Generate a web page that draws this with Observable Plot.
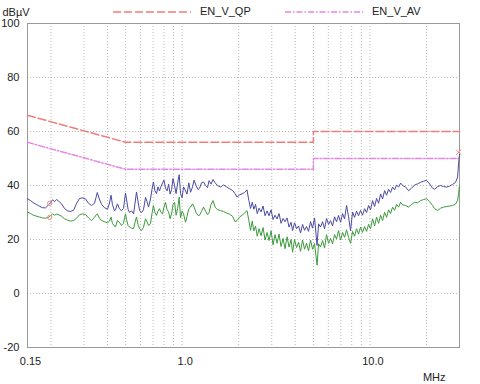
<!DOCTYPE html>
<html><head><meta charset="utf-8">
<script src="https://cdn.jsdelivr.net/npm/d3@7"></script>
<script src="https://cdn.jsdelivr.net/npm/@observablehq/plot@0.6"></script>
<style>
body{margin:0;background:#fff;}
#wrap{position:relative;width:480px;height:384px;font-family:"Liberation Sans",Arial,sans-serif;}
#legend{position:absolute;left:0;top:0;width:480px;height:22px;font-size:11px;color:#222;}
#legend .sw{position:absolute;top:7px;}
#legend .tx{position:absolute;top:5px;line-height:13px;}
#chart{position:absolute;left:0;top:0;}
</style></head>
<body><div id="wrap"><div id="chart"></div><div id="legend"></div></div>
<script>
// Sweep frequencies (MHz), shared by both detector traces
const freqMHz = [
  0.150,0.156,0.161,0.168,0.174,0.180,0.187,0.194,0.199,0.204,
  0.209,0.214,0.219,0.228,0.236,0.245,0.254,0.264,0.273,0.284,
  0.294,0.306,0.317,0.329,0.341,0.349,0.353,0.362,0.372,0.385,
  0.400,0.410,0.418,0.425,0.436,
  0.441,0.452,0.463,0.475,0.487,0.493,0.499,0.505,0.515,0.524,
  0.537,0.551,0.561,0.571,0.582,0.593,0.607,0.622,0.638,0.650,
  0.662,0.678,0.690,0.703,0.716,0.730,0.743,0.757,0.771,0.786,
  0.800,0.815,0.831,0.847,0.862,0.878,0.894,0.911,0.928,0.946,
  0.964,0.980,0.999,1.017,1.042,1.061,1.085,1.108,1.136,1.157,
  1.186,1.215,1.238,1.268,1.300,1.332,1.365,1.391,1.425,1.460,
  1.497,
  1.543,1.601,1.661,1.723,1.788,1.855,1.912,1.960,2.021,2.084,
  2.148,2.215,
  2.265,2.313,2.362,2.408,2.459,2.511,2.567,2.631,2.697,2.763,
  2.832,2.902,2.974,3.048,3.124,3.201,3.281,3.363,3.446,3.531,
  3.619,3.709,3.801,3.872,3.968,4.067,4.168,4.271,4.377,4.485,
  4.597,4.711,4.828,4.948,5.071,5.230,5.327,5.458,5.593,5.732,
  5.875,6.021,6.171,6.324,6.481,6.642,6.807,6.976,7.149,7.326,
  7.509,7.695,7.886,8.082,8.282,8.489,8.699,8.915,9.136,9.364,
  9.597,9.836,10.08,10.33,10.59,10.85,11.12,11.40,11.68,11.97,
  12.27,12.57,12.88,13.20,13.53,13.87,14.21,14.57,14.93,
  15.49,16.07,16.66,17.30,17.94,18.62,19.32,20.04,20.79,21.56,
  22.11,22.93,23.79,24.68,25.61,26.57,27.57,28.60,29.31,29.66,
  30.00
];
// Peak detector trace (blue), dBµV
const peakLevel = [
  35.1,34.4,33.6,32.9,32.3,31.8,31.7,32.8,33.6,34.7,
  34.0,34.8,34.3,33.2,31.5,30.6,30.4,30.8,33.2,35.2,
  35.4,35.0,33.4,32.6,33.4,36.0,37.4,35.0,33.0,31.8,
  31.2,33.5,36.4,33.0,30.6,
  31.0,33.2,31.4,30.7,31.5,34.5,37.2,35.0,31.2,30.0,
  30.6,29.5,33.5,37.6,34.0,30.8,30.0,31.0,35.6,34.0,
  32.0,35.0,38.5,41.3,38.0,37.0,39.5,38.0,39.6,41.0,
  42.0,39.0,38.0,40.5,36.8,38.5,42.6,40.0,37.0,41.0,
  44.0,37.0,35.5,39.5,38.0,36.8,41.0,37.5,39.5,42.0,
  40.0,38.5,39.0,41.0,41.3,40.0,39.2,41.8,40.5,42.2,
  41.0,
  40.0,39.4,40.2,39.5,38.8,38.2,37.0,35.7,36.5,36.9,
  37.4,38.4,
  34.4,31.5,33.8,31.2,33.0,29.6,31.6,30.2,32.4,28.8,
  30.6,28.8,31.0,27.4,29.0,27.6,29.6,26.0,27.8,26.6,
  28.0,24.6,26.4,23.3,26.2,24.0,25.0,22.4,25.6,23.4,
  24.8,23.0,26.6,24.2,28.0,17.8,25.8,24.6,26.6,24.0,
  27.8,25.6,27.0,25.0,28.4,26.6,28.9,26.4,29.6,27.6,
  32.6,28.4,23.3,30.2,28.2,30.5,28.8,30.8,29.0,31.4,
  30.0,32.6,31.0,34.4,32.2,35.2,33.4,36.9,35.0,38.1,
  36.4,38.6,37.4,39.4,38.4,40.2,39.4,40.9,40.0,
  39.4,38.1,39.0,40.2,40.6,41.2,41.6,41.9,40.6,39.0,
  38.6,39.6,40.0,39.6,39.4,39.8,40.4,41.2,43.1,48.0,
  51.5
];
// Average detector trace (green), dBµV
const avgLevel = [
  30.2,29.6,29.0,28.6,28.3,28.0,27.9,28.2,28.8,29.5,
  29.0,29.4,29.2,28.6,27.7,27.2,26.8,27.0,27.8,29.2,
  29.5,29.2,28.0,27.0,28.2,29.2,29.5,28.0,27.0,26.6,
  26.2,26.8,28.3,26.0,25.0,
  24.6,27.0,26.4,25.2,26.0,28.0,29.5,27.5,25.2,24.6,
  24.2,24.0,26.5,28.3,25.5,24.0,23.3,24.5,27.7,26.5,
  25.2,25.8,29.5,32.6,30.0,28.9,30.5,31.4,30.0,29.5,
  32.0,33.8,31.0,30.2,27.7,29.5,33.0,33.8,29.0,31.5,
  35.7,28.0,30.5,29.5,26.4,28.5,31.4,32.0,33.2,32.0,
  30.0,28.9,29.0,30.5,32.0,30.5,29.2,30.0,33.0,34.4,
  32.0,
  31.0,30.7,30.4,29.8,29.4,28.6,26.6,27.0,28.3,29.0,
  29.8,30.7,
  27.0,23.4,26.8,23.2,25.0,21.2,24.0,21.4,24.4,19.8,
  22.6,19.6,23.2,18.0,21.8,18.6,22.0,17.4,20.4,16.6,
  21.0,17.2,20.0,15.3,20.0,17.0,19.0,15.6,19.8,16.4,
  18.6,15.8,19.8,16.4,18.5,10.5,18.4,17.2,19.6,16.8,
  21.8,18.6,20.4,18.4,21.8,20.2,23.3,19.8,22.6,20.8,
  23.6,20.8,18.6,23.0,21.2,24.0,22.0,24.6,22.6,24.8,
  23.0,25.6,24.0,27.7,25.0,28.3,26.0,29.0,27.0,30.1,
  28.2,31.0,29.6,32.0,30.8,33.0,32.0,33.8,32.8,
  32.6,32.0,33.0,33.8,33.6,34.4,34.8,35.1,34.0,32.6,
  31.4,30.7,31.6,32.0,32.2,32.4,32.6,33.2,34.4,37.0,
  40.0
];
// Limit lines
const limitFreq = [0.15, 0.5, 5, 5, 30];
const qpLimit   = [66, 56, 56, 60, 60];
const avLimit   = [56, 46, 46, 50, 50];
// Markers
const markFreq  = [0.197, 0.197];
const markLevel = [33.4, 28.2];
const crossFreq = [29.7];
const crossLevel = [52.3];
// Axes
const xTickValues = [0.15, 1, 10, 30];
const xTickLabels = ["0.15", "1.0", "10.0", "30.0"];
const yTickValues = [-20, 0, 20, 40, 60, 80, 100];
const yTickLabels = ["-20", "0", "20", "40", "60", "80", "100"];
const xGrid = [0.2,0.3,0.4,0.5,0.6,0.7,0.8,0.9,1,2,3,4,5,6,7,8,9,10,20];
const yGrid = [0, 20, 40, 60, 80];
const seriesNames = ["EN_V_QP", "EN_V_AV"];

if (freqMHz.length !== peakLevel.length || freqMHz.length !== avgLevel.length)
  console.error("length mismatch", freqMHz.length, peakLevel.length, avgLevel.length);

const peakRows = freqMHz.map((f, i) => ({f, v: peakLevel[i]}));
const avgRows = freqMHz.map((f, i) => ({f, v: avgLevel[i]}));
const qpRows = limitFreq.map((f, i) => ({f, v: qpLimit[i]}));
const avRows = limitFreq.map((f, i) => ({f, v: avLimit[i]}));
const markRows = markFreq.map((f, i) => ({f, v: markLevel[i]}));
const crossRows = crossFreq.map((f, i) => ({f, v: crossLevel[i]}));

const QP_COLOR = "#f07c7c", AV_COLOR = "#e585e5";
const QP_DASH = "8,3", AV_DASH = "6,2,1.5,2";

const chart = Plot.plot({
  width: 480, height: 384,
  marginLeft: 27, marginRight: 21, marginTop: 23, marginBottom: 37,
  style: {fontFamily: '"Liberation Sans", Arial, sans-serif', fontSize: "11px", color: "#222", background: "transparent"},
  x: {type: "log", domain: [0.15, 30]},
  y: {domain: [-20, 100]},
  marks: [
    Plot.gridX(xGrid, {stroke: "#b8b8b8", strokeOpacity: 1, strokeDasharray: "1,2"}),
    Plot.gridY(yGrid, {stroke: "#b8b8b8", strokeOpacity: 1, strokeDasharray: "1,2"}),
    Plot.axisX(xTickValues, {tickSize: 0, tickPadding: 10, dx: 3, label: null,
      tickFormat: d => xTickLabels[xTickValues.indexOf(d)]}),
    Plot.axisY(yTickValues, {tickSize: 0, tickPadding: 8, label: null,
      tickFormat: d => yTickLabels[yTickValues.indexOf(d)]}),
    Plot.frame({stroke: "#999"}),
    Plot.line(qpRows, {x: "f", y: "v", stroke: QP_COLOR, strokeWidth: 1.5, strokeDasharray: QP_DASH}),
    Plot.line(avRows, {x: "f", y: "v", stroke: AV_COLOR, strokeWidth: 1.5, strokeDasharray: AV_DASH}),
    Plot.line(avgRows, {x: "f", y: "v", stroke: "#3c9a3c", strokeWidth: 1}),
    Plot.line(peakRows, {x: "f", y: "v", stroke: "#4a4aa2", strokeWidth: 1}),
    Plot.dot(markRows, {x: "f", y: "v", r: 2.2, stroke: "#f08c8c", fill: "none", strokeWidth: 1}),
    Plot.dot(crossRows, {x: "f", y: "v", r: 2.5, symbol: "times", stroke: "#f08c8c", strokeWidth: 1}),
    Plot.text(["dBµV"], {frameAnchor: "top-left", dx: -25, dy: -11, textAnchor: "start", lineAnchor: "middle"}),
    Plot.text(["MHz"], {frameAnchor: "bottom-right", dx: -14, dy: 30, textAnchor: "end", lineAnchor: "middle"})
  ]
});
document.getElementById("chart").appendChild(chart);

// Legend
const legend = document.getElementById("legend");
const legendItems = [
  {name: seriesNames[0], color: QP_COLOR, dash: QP_DASH, sx: 113, tx: 200},
  {name: seriesNames[1], color: AV_COLOR, dash: AV_DASH, sx: 285, tx: 372}
];
for (const it of legendItems) {
  const sw = document.createElementNS("http://www.w3.org/2000/svg", "svg");
  sw.setAttribute("class", "sw");
  sw.setAttribute("width", 78); sw.setAttribute("height", 10);
  sw.style.left = it.sx + "px";
  const ln = document.createElementNS("http://www.w3.org/2000/svg", "line");
  ln.setAttribute("x1", 0); ln.setAttribute("x2", 78);
  ln.setAttribute("y1", 5); ln.setAttribute("y2", 5);
  ln.setAttribute("stroke", it.color); ln.setAttribute("stroke-width", 1.5);
  ln.setAttribute("stroke-dasharray", it.dash);
  sw.appendChild(ln);
  legend.appendChild(sw);
  const tx = document.createElement("div");
  tx.className = "tx";
  tx.style.left = it.tx + "px";
  tx.textContent = it.name;
  legend.appendChild(tx);
}
</script>
</body></html>
